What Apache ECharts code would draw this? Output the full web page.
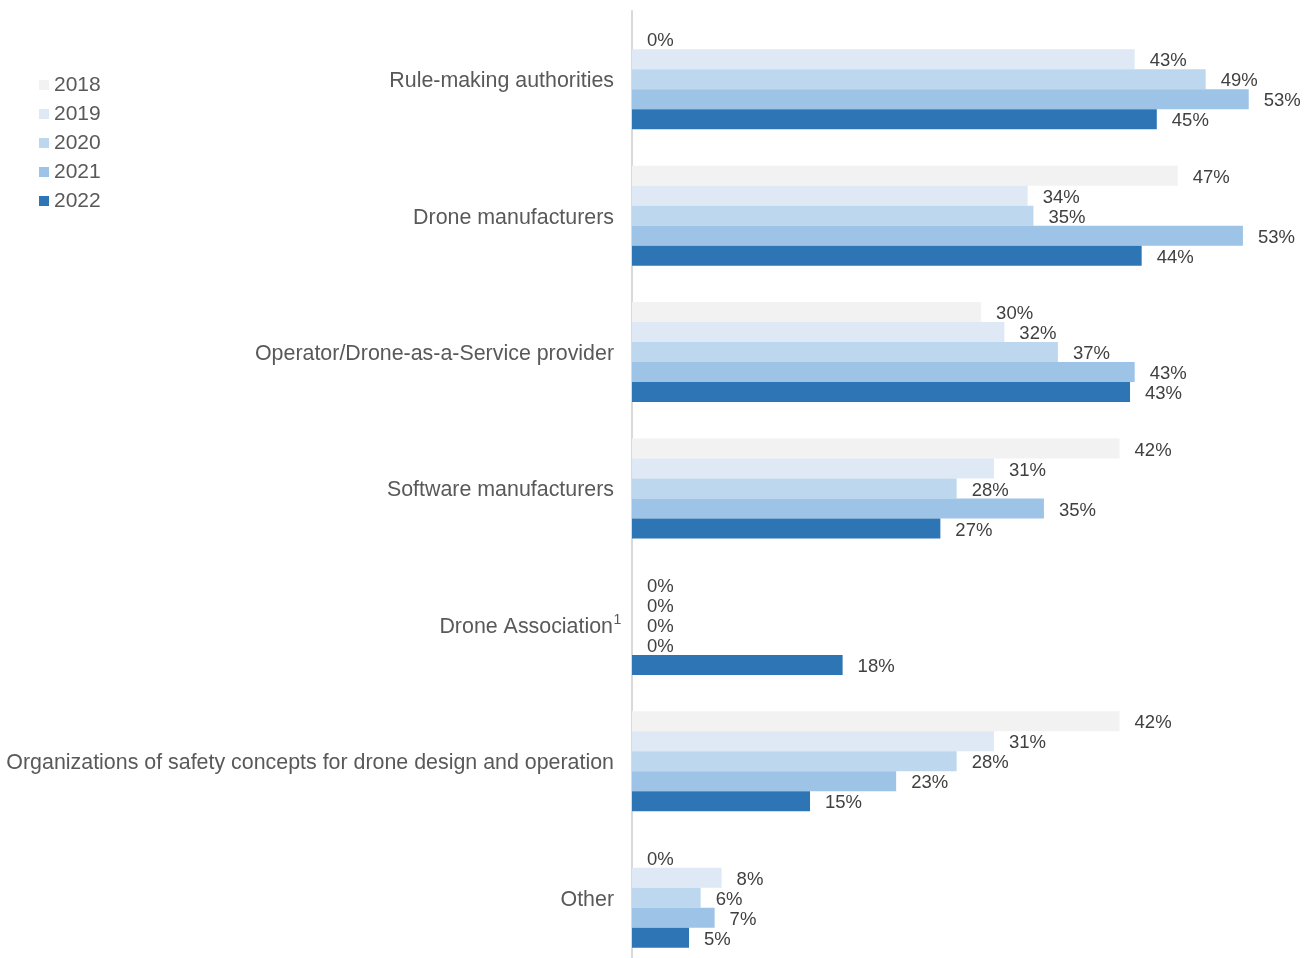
<!DOCTYPE html>
<html>
<head>
<meta charset="utf-8">
<title>Drone chart</title>
<script src="https://cdn.jsdelivr.net/npm/echarts@6/dist/echarts.min.js"></script>
<style>
	html, body { margin: 0; padding: 0; background: #fff; }
	#chart { width: 1309px; height: 958px; }
</style>
</head>
<body>
<div id="chart"></div>
<script>
	// categories, top to bottom
	var categories = [
		'Rule-making authorities',
		'Drone manufacturers',
		'Operator/Drone-as-a-Service provider',
		'Software manufacturers',
		'Drone Association',
		'Organizations of safety concepts for drone design and operation',
		'Other'
	];
	var years = ['2018', '2019', '2020', '2021', '2022'];
	var colors = ['#f2f2f2', '#dee9f5', '#bdd7ee', '#9dc3e6', '#2e75b6'];

	// values in %
	var v2018 = [0, 46.9, 30.0, 41.9, 0, 41.9, 0];
	var v2019 = [43.2, 34.0, 32.0, 31.1, 0, 31.1, 7.7];
	var v2020 = [49.3, 34.5, 36.6, 27.9, 0, 27.9, 5.9];
	var v2021 = [53.0, 52.5, 43.2, 35.4, 0, 22.7, 7.1];
	var v2022 = [45.1, 43.8, 42.8, 26.5, 18.1, 15.3, 4.9];
	var values = [v2018, v2019, v2020, v2021, v2022];

	var font = '"Liberation Sans", Arial, sans-serif';

	var chart = echarts.init(document.getElementById('chart'));

	var series = years.map(function(y, i){
		return {
			name: y,
			type: 'bar',
			barGap: '0%',
			barCategoryGap: '26.7%',
			itemStyle: { color: colors[i] },
			label: {
				show: true,
				position: 'right',
				distance: 15,
				offset: [0, 2],
				fontFamily: font,
				fontSize: 18.5,
				color: '#404040',
				formatter: function(p){ return Math.round(p.value) + '%'; }
			},
			data: values[i]
		};
	});

	var option = {
		animation: false,
		legend: {
			orient: 'vertical',
			left: 34,
			top: 69.5,
			itemWidth: 10,
			itemHeight: 10,
			itemGap: 8,
			icon: 'rect',
			textStyle: { fontFamily: font, fontSize: 21, color: '#595959' },
			data: years
		},
		grid: { left: 632, right: 37, top: 11, height: 955, outerBoundsMode: 'none', containLabel: false },
		xAxis: {
			type: 'value',
			min: 0,
			max: 55,
			show: false
		},
		yAxis: {
			type: 'category',
			inverse: true,
			data: categories,
			axisLine: { show: true, lineStyle: { color: '#d9d9d9', width: 2 } },
			axisTick: { show: false },
			axisLabel: {
				margin: 18,
				padding: [4, 0, 0, 0],
				fontFamily: font,
				fontSize: 21.4,
				color: '#595959',
				formatter: function(v){
					// footnote mark hangs past the label edge, as in the source
					if (v === 'Drone Association') return v + '{sup|\u00a0\u00a01}';
					return v;
				},
				rich: {
					sup: { fontFamily: font, fontSize: 14, color: '#595959', width: 1, align: 'left', verticalAlign: 'top', padding: [0, 0, 14, 0] }
				}
			}
		},
		series: series
	};
	chart.setOption(option);
</script>
</body>
</html>
